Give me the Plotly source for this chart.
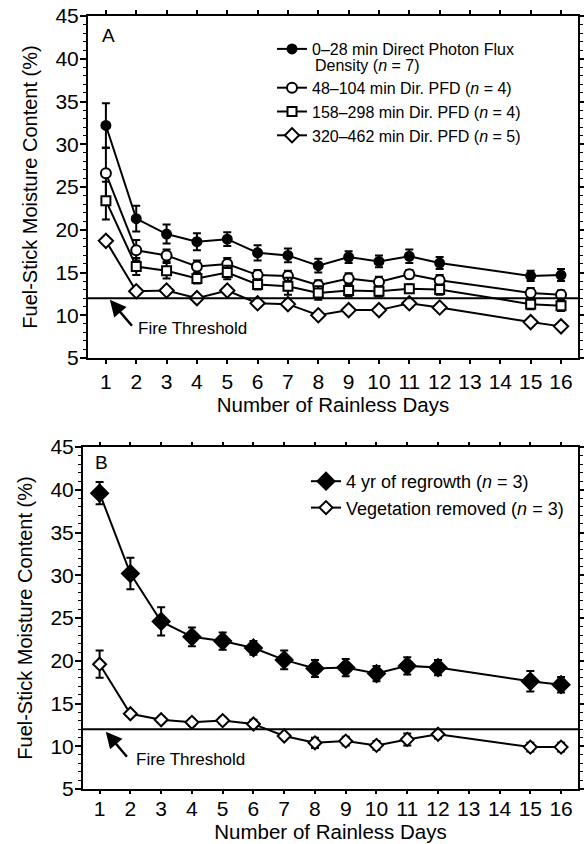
import plotly.graph_objects as go

# ---------------- data ----------------
days = [1, 2, 3, 4, 5, 6, 7, 8, 9, 10, 11, 12, 15, 16]
FIRE_THRESHOLD = 12

# Panel A
a_names = [
    "0–28 min Direct Photon Flux",
    "48–104 min Dir. PFD (<i>n</i> = 4)",
    "158–298 min Dir. PFD (<i>n</i> = 4)",
    "320–462 min Dir. PFD (<i>n</i> = 5)",
]
a_name0_line2 = "Density (<i>n</i> = 7)"
a_pfd0 = [32.2, 21.3, 19.5, 18.6, 18.9, 17.3, 17.0, 15.8, 16.8, 16.3, 16.9, 16.1, 14.6, 14.7]
a_pfd0_err = [2.6, 1.5, 1.1, 1.0, 0.8, 0.9, 0.8, 0.8, 0.7, 0.7, 0.8, 0.7, 0.6, 0.7]
a_pfd48 = [26.6, 17.6, 17.0, 15.7, 16.0, 14.7, 14.6, 13.5, 14.3, 13.9, 14.8, 14.1, 12.6, 12.4]
a_pfd48_err = [3.0, 1.2, 0.7, 0.7, 0.7, 0.6, 0.6, 0.6, 0.6, 0.6, 0.5, 0.6, 0.6, 0.5]
a_pfd158 = [23.4, 15.7, 15.2, 14.3, 15.0, 13.6, 13.4, 12.6, 12.9, 12.8, 13.1, 13.0, 11.3, 11.1]
a_pfd158_err = [2.2, 1.0, 0.9, 0.6, 0.8, 0.6, 1.0, 0.8, 0.7, 0.6, 0.5, 0.6, 0.6, 0.6]
a_pfd320 = [18.7, 12.8, 12.9, 12.0, 12.9, 11.4, 11.3, 10.0, 10.6, 10.6, 11.4, 10.9, 9.2, 8.7]
a_pfd320_err = [0.3, 0.3, 0.3, 0.3, 0.4, 0.3, 0.3, 0.3, 0.3, 0.3, 0.4, 0.3, 0.3, 0.3]

# Panel B
b_names = ["4 yr of regrowth (<i>n</i> = 3)", "Vegetation removed (<i>n</i> = 3)"]
b_regrowth = [39.6, 30.2, 24.6, 22.8, 22.3, 21.5, 20.1, 19.1, 19.2, 18.5, 19.4, 19.2, 17.6, 17.2]
b_regrowth_err = [1.3, 1.85, 1.65, 1.1, 1.0, 0.8, 1.1, 1.0, 1.0, 0.9, 1.0, 0.9, 1.2, 0.9]
b_removed = [19.6, 13.8, 13.1, 12.8, 13.0, 12.6, 11.2, 10.4, 10.6, 10.1, 10.8, 11.4, 9.9, 9.9]
b_removed_err = [1.6, 0.3, 0.3, 0.4, 0.4, 0.5, 0.3, 0.6, 0.5, 0.5, 0.7, 0.5, 0.5, 0.5]

y_ticks = [5, 10, 15, 20, 25, 30, 35, 40, 45]
x_ticks = list(range(1, 17))

FONT = "Liberation Sans, Arial, Helvetica, sans-serif"
W, H = 584, 844

fig = go.Figure()


def add_series(y, err, name, symbol, fill, size, xa, ya, legend, group):
    fig.add_trace(go.Scatter(
        x=days, y=y, name=name, mode="lines+markers",
        xaxis=xa, yaxis=ya, legend=legend, legendgroup=group,
        line=dict(color="black", width=2),
        marker=dict(symbol=symbol, size=size, color=fill,
                    line=dict(color="black", width=2)),
        error_y=dict(type="data", array=err, color="black", thickness=2, width=4),
    ))


add_series(a_pfd0, a_pfd0_err, a_names[0], "circle", "black", 9, "x", "y", "legend", "a1")
add_series(a_pfd48, a_pfd48_err, a_names[1], "circle", "white", 10, "x", "y", "legend", "a2")
add_series(a_pfd158, a_pfd158_err, a_names[2], "square", "white", 9, "x", "y", "legend", "a2")
add_series(a_pfd320, a_pfd320_err, a_names[3], "diamond", "white", 11, "x", "y", "legend", "a2")

add_series(b_regrowth, b_regrowth_err, b_names[0], "diamond", "black", 13, "x2", "y2", "legend2", "b")
add_series(b_removed, b_removed_err, b_names[1], "diamond", "white", 10, "x2", "y2", "legend2", "b")

TICK_FONT = dict(family=FONT, size=21, color="black")
axis_common = dict(
    showline=True, linecolor="black", linewidth=2, mirror="ticks",
    showgrid=False, zeroline=False, ticks="outside", tickcolor="black",
    tickwidth=1.5, tickfont=TICK_FONT, automargin=False,
)

xa_dom = [88 / W, 578 / W]
xb_dom = [83 / W, 578 / W]
ya_dom = [1 - 358 / H, 1 - 16 / H]
yb_dom = [1 - 789 / H, 1 - 447 / H]

xtitle = dict(text="Number of Rainless Days", font=dict(family=FONT, size=20.5, color="black"), standoff=5)
ytitle = dict(text="Fuel-Stick Moisture Content (%)", font=dict(family=FONT, size=20, color="black"), standoff=12)
yminor = dict(dtick=1, ticklen=3, ticks="outside", tickcolor="black", tickwidth=1.2)

fig.update_layout(
    width=W, height=H,
    margin=dict(l=0, r=0, t=0, b=0),
    paper_bgcolor="white", plot_bgcolor="white",
    font=dict(family=FONT, color="black"),
    xaxis=dict(axis_common, domain=xa_dom, anchor="y", range=[0.41, 16.56],
               tickvals=x_ticks, ticklen=4, title=xtitle),
    yaxis=dict(axis_common, domain=ya_dom, anchor="x", range=[5, 45],
               tickvals=y_ticks, ticklen=6, title=ytitle, ticklabelstandoff=-3,
               minor=yminor),
    xaxis2=dict(axis_common, domain=xb_dom, anchor="y2", range=[0.46, 16.55],
                tickvals=x_ticks, ticklen=3, ticklabelstandoff=-3, title=xtitle),
    yaxis2=dict(axis_common, domain=yb_dom, anchor="x2", range=[5, 45],
                tickvals=y_ticks, ticklen=6, title=ytitle, ticklabelstandoff=-3,
                minor=yminor),
    legend=dict(x=272 / W, y=1 - 32 / H, xanchor="left", yanchor="top",
                bgcolor="rgba(0,0,0,0)", traceorder="grouped", tracegroupgap=15,
                font=dict(family=FONT, size=16, color="black"), itemwidth=30),
    legend2=dict(x=306 / W, y=1 - 463 / H, xanchor="left", yanchor="top",
                 bgcolor="rgba(0,0,0,0)", traceorder="normal",
                 font=dict(family=FONT, size=18, color="black"), itemwidth=30),
    showlegend=True,
)

# second line of the first legend entry in panel A
fig.add_annotation(xref="paper", yref="paper", x=313 / W, y=1 - 66 / H,
                   text=a_name0_line2, showarrow=False, xanchor="left", yanchor="middle",
                   font=dict(family=FONT, size=16, color="black"))

# fire threshold lines
for ya, xa in (("y", "x"), ("y2", "x2")):
    fig.add_shape(type="line", xref=f"{xa} domain", x0=0, x1=1, yref=ya,
                  y0=FIRE_THRESHOLD, y1=FIRE_THRESHOLD,
                  line=dict(color="black", width=2), layer="above")

# arrows + labels
for xa, ya, tip, tail, txt in (("x", "y", (1.13, 11.8), (1.9, 8.6), (2.0, 8.5)),
                               ("x2", "y2", (1.2, 11.7), (1.93, 8.6), (2.12, 8.4))):
    fig.add_annotation(xref=xa, yref=ya, x=tip[0], y=tip[1], axref=xa, ayref=ya,
                       ax=tail[0], ay=tail[1], text="", showarrow=True,
                       arrowhead=2, arrowsize=1.3, arrowwidth=2.5, arrowcolor="black")
    fig.add_annotation(xref=xa, yref=ya, x=txt[0], y=txt[1], text="Fire Threshold",
                       showarrow=False, xanchor="left", yanchor="middle",
                       font=dict(family=FONT, size=17, color="black"))

# panel letters
fig.add_annotation(xref="x domain", yref="y domain", x=0.024, y=0.98, text="A",
                   showarrow=False, xanchor="left", yanchor="top",
                   font=dict(family=FONT, size=19, color="black"))
fig.add_annotation(xref="x2 domain", yref="y2 domain", x=0.02, y=0.99, text="B",
                   showarrow=False, xanchor="left", yanchor="top",
                   font=dict(family=FONT, size=19, color="black"))

fig.write_html("out.html")
